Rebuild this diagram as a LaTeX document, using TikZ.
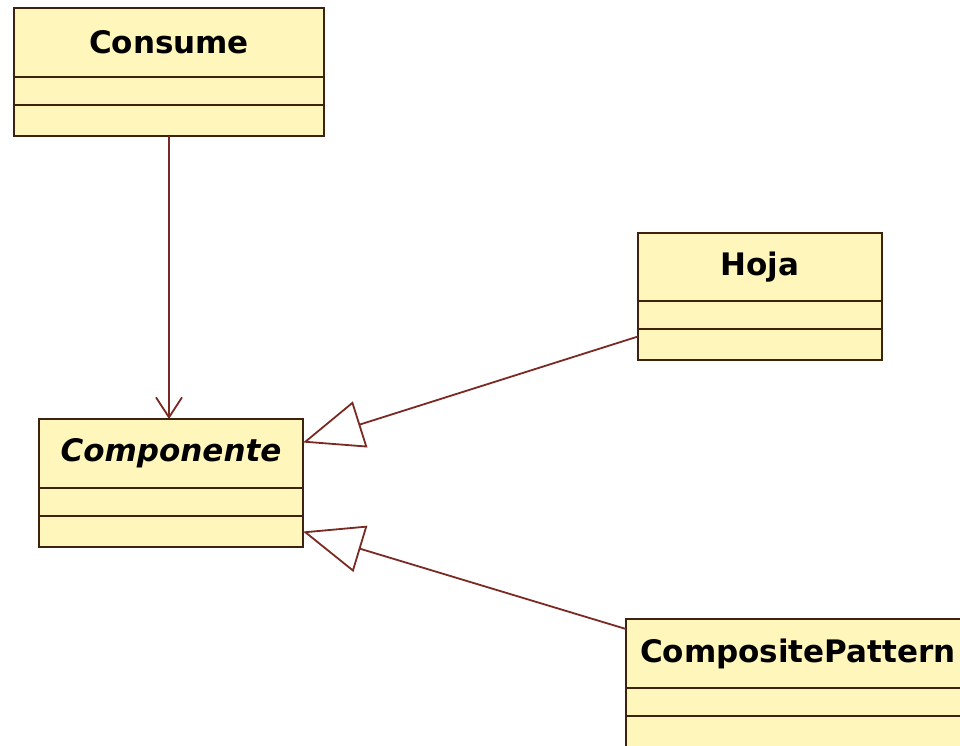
\documentclass[tikz,border=0pt]{standalone}
\usepackage{fontspec}
\setmainfont{DejaVu Sans}
\usetikzlibrary{arrows.meta}

\definecolor{classfill}{HTML}{FFF6BC}
\definecolor{classline}{HTML}{3E2210}
\definecolor{linkline}{HTML}{7A2A22}

\tikzset{
  classname/.style={draw=classline, fill=classfill, line width=2.2pt, anchor=north west,
    inner sep=0pt, outer sep=0pt, minimum height=69pt, font=\fontsize{31}{36}\selectfont\bfseries},
  classpart/.style={draw=classline, fill=classfill, line width=2.2pt, anchor=north west,
    inner sep=0pt, outer sep=0pt},
  uses/.style={draw=linkline, line width=1.8pt, -{Straight Barb[length=20pt,width=26pt]}},
  inherits/.style={draw=linkline, line width=1.8pt,
    -{Triangle[open,length=60pt,width=48pt,line width=1.8pt]}}
}

\begin{document}
\begin{tikzpicture}[x=1pt,y=-1pt]

    % Picture frame
    \useasboundingbox[fill=white] (0,0) rectangle (960,745);
    \clip (0,0) rectangle (960,745);

    % Class Consume
    \node[classname, minimum width=310pt] (consname) at (14,8) {Consume};
    \node[classpart, minimum width=310pt, minimum height=28pt] (consattr) at (consname.south west) {};
    \node[classpart, minimum width=310pt, minimum height=31pt] (consops) at (consattr.south west) {};

    % Class Componente (abstract, so italic)
    \node[classname, minimum width=264pt, font=\fontsize{31}{36}\selectfont\bfseries\itshape] (compname) at (39,419) {Componente};
    \node[classpart, minimum width=264pt, minimum height=28pt] (compattr) at (compname.south west) {};
    \node[classpart, minimum width=264pt, minimum height=31pt] (compops) at (compattr.south west) {};

    % Class Hoja
    \node[classname, minimum width=244pt, minimum height=68pt] (hojaname) at (638,233) {Hoja};
    \node[classpart, minimum width=244pt, minimum height=28pt] (hojaattr) at (hojaname.south west) {};
    \node[classpart, minimum width=244pt, minimum height=31pt] (hojaops) at (hojaattr.south west) {};

    % Class CompositePattern (runs off the right edge)
    \node[classname, minimum width=360pt, text width=340pt, align=left, inner xsep=14pt] (cpname) at (626,619) {CompositePattern};
    \node[classpart, minimum width=368pt, minimum height=28pt] (cpattr) at (cpname.south west) {};
    \node[classpart, minimum width=368pt, minimum height=40pt] (cpops) at (cpattr.south west) {};

    % Association from Consume to Componente
    \draw[uses] (consops.south) -- (consops.south |- compname.north);

    % Generalizations
    \draw[inherits] ([yshift=8pt]hojaops.west) -- ([yshift=11pt]compname.east);
    \draw[inherits] ([yshift=-10pt]cpname.north west) -- (compops.east);

\end{tikzpicture}
\end{document}
